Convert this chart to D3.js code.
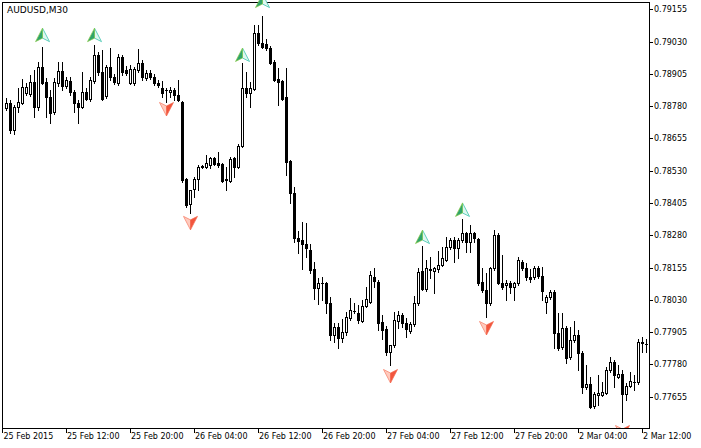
<!DOCTYPE html>
<html><head><meta charset="utf-8">
<script src="https://cdn.jsdelivr.net/npm/d3@7"></script>
<style>
body{margin:0;background:#fff}
svg{display:block}
text{font-family:"DejaVu Sans",Verdana,sans-serif;font-size:8px;fill:#000}
</style>
</head><body><svg id="c" width="701" height="448"></svg>
<script>
const symbolTitle = "AUDUSD,M30";
const firstBarTime = "2015-02-25T04:30";
const barCount = 161;
const opens = [
0.78773,0.78792,0.78688,0.78777,0.78792,0.78831,0.78827,0.78873,0.78777,0.78932,
0.78873,0.78815,0.78757,0.78870,0.78916,0.78858,0.78877,0.78835,0.78792,0.78777,
0.78835,0.78808,0.78877,0.78978,0.78912,0.78819,0.78932,0.78893,0.78870,0.78970,
0.78920,0.78870,0.78870,0.78920,0.78947,0.78889,0.78908,0.78893,0.78870,0.78850,
0.78843,0.78835,0.78843,0.78823,0.78796,0.78498,0.78401,0.78459,0.78498,0.78544,
0.78544,0.78552,0.78579,0.78560,0.78556,0.78494,0.78490,0.78579,0.78544,0.78626,
0.78850,0.78831,0.78846,0.79063,0.79025,0.79021,0.79005,0.78951,0.78885,0.78877,
0.78815,0.78568,0.78444,0.78270,0.78262,0.78246,0.78223,0.78149,0.78076,0.78095,
0.78095,0.78018,0.77894,0.77925,0.77882,0.77906,0.77960,0.77987,0.77979,0.77948,
0.78006,0.78022,0.78119,0.78099,0.77944,0.77917,0.77828,0.77855,0.77948,0.77971,
0.77940,0.77909,0.77936,0.78018,0.78142,0.78072,0.78149,0.78142,0.78149,0.78165,
0.78184,0.78235,0.78262,0.78231,0.78262,0.78289,0.78254,0.78289,0.78266,0.78099,
0.78068,0.78018,0.78153,0.78281,0.78095,0.78088,0.78095,0.78080,0.78095,0.78177,
0.78153,0.78119,0.78119,0.78153,0.78122,0.78022,0.78041,0.78060,0.77902,0.77847,
0.77921,0.77809,0.77875,0.77894,0.77824,0.77693,0.77704,0.77619,0.77662,0.77662,
0.77669,0.77758,0.77789,0.77731,0.77743,0.77665,0.77696,0.77712,0.77712,0.77867,
0.77859];
const highs = [
0.78812,0.78804,0.78784,0.78850,0.78885,0.78870,0.78901,0.78920,0.78951,0.79009,
0.78889,0.78843,0.78889,0.78951,0.78951,0.78893,0.78893,0.78843,0.78804,0.78912,
0.78850,0.78893,0.79017,0.78990,0.78997,0.78939,0.79005,0.78904,0.78982,0.78978,
0.78935,0.78939,0.78932,0.79001,0.78959,0.78920,0.78920,0.78904,0.78881,0.78877,
0.78850,0.78854,0.78850,0.78881,0.78800,0.78502,0.78455,0.78506,0.78552,0.78552,
0.78591,0.78583,0.78583,0.78602,0.78560,0.78544,0.78583,0.78583,0.78633,0.78947,
0.78912,0.78873,0.79094,0.79094,0.79129,0.79040,0.79013,0.78959,0.78928,0.78881,
0.78928,0.78571,0.78467,0.78297,0.78331,0.78328,0.78246,0.78177,0.78115,0.78119,
0.78099,0.78041,0.77940,0.77940,0.77956,0.77983,0.78037,0.78018,0.78010,0.78029,
0.78080,0.78142,0.78153,0.78107,0.77971,0.77929,0.77855,0.77983,0.77987,0.77979,
0.77960,0.77944,0.78045,0.78153,0.78238,0.78184,0.78196,0.78157,0.78219,0.78235,
0.78273,0.78270,0.78273,0.78270,0.78343,0.78293,0.78320,0.78293,0.78270,0.78153,
0.78134,0.78157,0.78300,0.78289,0.78204,0.78107,0.78103,0.78099,0.78196,0.78184,
0.78173,0.78149,0.78161,0.78161,0.78157,0.78049,0.78068,0.78068,0.77979,0.77979,
0.77929,0.77925,0.77948,0.77913,0.77832,0.77778,0.77731,0.77673,0.77739,0.77712,
0.77770,0.77809,0.77797,0.77778,0.77758,0.77708,0.77751,0.77739,0.77878,0.77886,
0.77878];
const lows = [
0.78765,0.78676,0.78672,0.78757,0.78788,0.78823,0.78819,0.78738,0.78765,0.78866,
0.78738,0.78715,0.78750,0.78858,0.78843,0.78850,0.78823,0.78757,0.78715,0.78773,
0.78804,0.78800,0.78870,0.78901,0.78804,0.78812,0.78881,0.78866,0.78862,0.78901,
0.78901,0.78866,0.78862,0.78912,0.78881,0.78881,0.78885,0.78862,0.78854,0.78815,
0.78796,0.78815,0.78804,0.78800,0.78486,0.78390,0.78366,0.78428,0.78455,0.78541,
0.78541,0.78541,0.78552,0.78544,0.78486,0.78455,0.78486,0.78506,0.78541,0.78622,
0.78815,0.78777,0.78843,0.79017,0.79005,0.78997,0.78943,0.78877,0.78784,0.78804,
0.78513,0.78405,0.78254,0.78211,0.78149,0.78196,0.78134,0.78033,0.78014,0.78029,
0.77979,0.77875,0.77867,0.77844,0.77867,0.77894,0.77952,0.77979,0.77940,0.77944,
0.78002,0.78018,0.78080,0.77913,0.77878,0.77816,0.77778,0.77847,0.77921,0.77925,
0.77886,0.77902,0.77929,0.78010,0.78068,0.78064,0.78115,0.78056,0.78138,0.78161,
0.78180,0.78227,0.78177,0.78192,0.78254,0.78215,0.78215,0.78254,0.78088,0.78060,
0.77964,0.78010,0.78146,0.78091,0.78072,0.78029,0.78056,0.78029,0.78088,0.78146,
0.78107,0.78099,0.78111,0.78115,0.78029,0.77979,0.78033,0.77844,0.77836,0.77840,
0.77786,0.77801,0.77867,0.77758,0.77669,0.77685,0.77611,0.77611,0.77623,0.77658,
0.77665,0.77751,0.77693,0.77727,0.77557,0.77642,0.77693,0.77681,0.77704,0.77828,
0.77828];
const closes = [
0.78792,0.78688,0.78777,0.78796,0.78854,0.78854,0.78873,0.78777,0.78932,0.78870,
0.78815,0.78753,0.78873,0.78916,0.78858,0.78881,0.78835,0.78792,0.78777,0.78835,
0.78808,0.78881,0.78978,0.78912,0.78808,0.78932,0.78893,0.78873,0.78970,0.78912,
0.78908,0.78924,0.78924,0.78947,0.78893,0.78908,0.78893,0.78870,0.78862,0.78831,
0.78842,0.78843,0.78823,0.78804,0.78494,0.78397,0.78455,0.78498,0.78544,0.78548,
0.78560,0.78579,0.78556,0.78552,0.78490,0.78498,0.78575,0.78544,0.78626,0.78850,
0.78831,0.78850,0.79063,0.79025,0.79009,0.79005,0.78947,0.78881,0.78873,0.78808,
0.78564,0.78444,0.78270,0.78258,0.78246,0.78231,0.78146,0.78076,0.78095,0.78094,
0.78018,0.77894,0.77925,0.77882,0.77906,0.77964,0.77991,0.77986,0.77952,0.78006,
0.78033,0.78126,0.78103,0.77940,0.77913,0.77828,0.77855,0.77952,0.77971,0.77940,
0.77917,0.77936,0.78018,0.78138,0.78072,0.78153,0.78146,0.78153,0.78165,0.78192,
0.78235,0.78262,0.78231,0.78262,0.78289,0.78254,0.78289,0.78270,0.78095,0.78068,
0.78018,0.78153,0.78281,0.78095,0.78080,0.78095,0.78080,0.78095,0.78184,0.78153,
0.78119,0.78111,0.78153,0.78122,0.78064,0.78041,0.78060,0.77902,0.77844,0.77921,
0.77805,0.77875,0.77894,0.77824,0.77693,0.77704,0.77615,0.77665,0.77669,0.77673,
0.77758,0.77789,0.77739,0.77743,0.77665,0.77696,0.77716,0.77711,0.77867,0.77863,
0.77860];
const priceTicks = [0.79155,0.79030,0.78905,0.78780,0.78655,0.78530,0.78405,0.78280,0.78155,0.78030,0.77905,0.77780,0.77655];
const timeTickTimes = ["2015-02-25T04:30","2015-02-25T12:00","2015-02-25T20:00","2015-02-26T04:00","2015-02-26T12:00","2015-02-26T20:00","2015-02-27T04:00","2015-02-27T12:00","2015-02-27T20:00","2015-03-02T04:00","2015-03-02T12:00"];
const timeTickLabels = ["25 Feb 2015","25 Feb 12:00","25 Feb 20:00","26 Feb 04:00","26 Feb 12:00","26 Feb 20:00","27 Feb 04:00","27 Feb 12:00","27 Feb 20:00","2 Mar 04:00","2 Mar 12:00"];
const buyBars = [9,22,59,64,104,114];
const buyLevels = [0.79055,0.79055,0.78978,0.79187,0.78273,0.78378];
const sellBars = [40,46,96,120,154];
const sellLevels = [0.78769,0.78328,0.77735,0.77921,0.77518];

// ---- build ----
const parse = d3.timeParse("%Y-%m-%dT%H:%M");
const fmt = d3.timeFormat("%Y-%m-%dT%H:%M");
const times = [];
let t = parse(firstBarTime);
while (times.length < barCount) {
  const dw = t.getDay();
  if (dw !== 0 && dw !== 6) times.push(fmt(t));
  t = d3.timeMinute.offset(t, 30);
}
const bars = times.map((tk, i) => ({t: tk, o: opens[i], h: highs[i], l: lows[i], c: closes[i]}));

const W = 701, H = 448;
const frame = {l: 2, t: 2, r: 649, b: 428};
const FONT = '"DejaVu Sans",Verdana,sans-serif';
const svg = d3.select("#c");
svg.append("rect").attr("width", W).attr("height", H).attr("fill", "#fff");

const x = d3.scaleBand().domain(times).range([frame.l + 2, frame.r - 1]).padding(0);
const y = d3.scaleLinear().domain([0.775336, 0.791833]).range([frame.b, frame.t]);
const Y = v => Math.round(y(v));
const CX = tk => Math.floor(x(tk) + x.bandwidth() / 2) + 0.5;

const defs = svg.append("defs");
defs.append("clipPath").attr("id", "plot").append("rect")
  .attr("x", frame.l + 1).attr("y", frame.t + 1).attr("width", frame.r - frame.l - 1).attr("height", frame.b - frame.t - 1);
defs.append("clipPath").attr("id", "arr").append("rect")
  .attr("x", frame.l + 1).attr("y", 0).attr("width", frame.r - frame.l - 1).attr("height", frame.b);

const g = svg.append("g").attr("clip-path", "url(#plot)").attr("shape-rendering", "crispEdges");
const cg = g.selectAll("g.bar").data(bars).join("g").attr("class", "bar");
cg.append("line")
  .attr("x1", d => CX(d.t)).attr("x2", d => CX(d.t))
  .attr("y1", d => Y(d.h)).attr("y2", d => Y(d.l) + 1)
  .attr("stroke", "#000").attr("stroke-width", 1);
cg.each(function(d) {
  const s = d3.select(this);
  const cx = CX(d.t);
  const yo = Y(d.o), yc = Y(d.c);
  if (yo === yc) {
    s.append("line").attr("x1", cx - 1.5).attr("x2", cx + 1.5).attr("y1", yo + 0.5).attr("y2", yo + 0.5)
      .attr("stroke", "#000");
  } else if (d.c < d.o) {
    s.append("rect").attr("x", cx - 1.5).attr("y", yo).attr("width", 3).attr("height", yc - yo + 1).attr("fill", "#000");
  } else {
    s.append("rect").attr("x", cx - 1).attr("y", yc + 0.5).attr("width", 2).attr("height", yo - yc)
      .attr("fill", "#fff").attr("stroke", "#000").attr("stroke-width", 1);
  }
});

// frame
svg.append("rect").attr("x", frame.l + 0.5).attr("y", frame.t + 0.5)
  .attr("width", frame.r - frame.l).attr("height", frame.b - frame.t)
  .attr("fill", "none").attr("stroke", "#000").attr("shape-rendering", "crispEdges");

// arrows
const ag = svg.append("g").attr("clip-path", "url(#arr)");
const upL = "M0,-7L-7,6.5L0,3Z", upR = "M0,-7L0,3L7,6.5Z";
const dnL = "M0,7L-7,-6.5L0,-3Z", dnR = "M0,7L0,-3L7,-6.5Z";
buyBars.forEach((b, i) => {
  const a = ag.append("g").attr("transform", `translate(${CX(times[b])},${y(buyLevels[i])})`);
  a.append("path").attr("d", upR).attr("fill", "#dff7f0").attr("stroke", "#4fc9b6").attr("stroke-width", 0.9);
  a.append("path").attr("d", upL).attr("fill", "#2ea36c").attr("stroke", "#8ccc4c").attr("stroke-width", 0.7);
});
sellBars.forEach((b, i) => {
  const a = ag.append("g").attr("transform", `translate(${CX(times[b])},${y(sellLevels[i])})`);
  a.append("path").attr("d", dnL).attr("fill", "#ffcabd").attr("stroke", "#f8907c").attr("stroke-width", 0.9);
  a.append("path").attr("d", dnR).attr("fill", "#f2553d").attr("stroke", "#f46a50").attr("stroke-width", 0.7);
});

// y axis
const ya = svg.append("g").attr("transform", `translate(${frame.r},0)`)
  .call(d3.axisRight(y).tickValues(priceTicks).tickSize(4).tickPadding(1).tickFormat(d3.format(".5f")));
ya.select(".domain").remove();
ya.selectAll("text").style("font-family", FONT).style("font-size", "8px").attr("fill", "#000");
ya.selectAll("line").attr("shape-rendering", "crispEdges");

// x axis
const xa = svg.append("g").attr("transform", `translate(0,${frame.b})`)
  .call(d3.axisBottom(x).tickValues(timeTickTimes).tickSize(5).tickFormat((d, i) => timeTickLabels[i]));
xa.select(".domain").remove();
xa.selectAll("line").attr("shape-rendering", "crispEdges");
xa.selectAll("text").attr("text-anchor", "start").attr("x", 1).attr("y", 10.5).attr("dy", 0)
  .style("font-family", FONT).style("font-size", "8px").attr("fill", "#000");
xa.selectAll(".tick").filter((d, i) => i === 0)
  .attr("transform", `translate(${frame.l + 0.5},0)`);

// title
svg.append("text").attr("x", 7).attr("y", 13).style("font-size", "9px").text(symbolTitle);
</script>
</body></html>
